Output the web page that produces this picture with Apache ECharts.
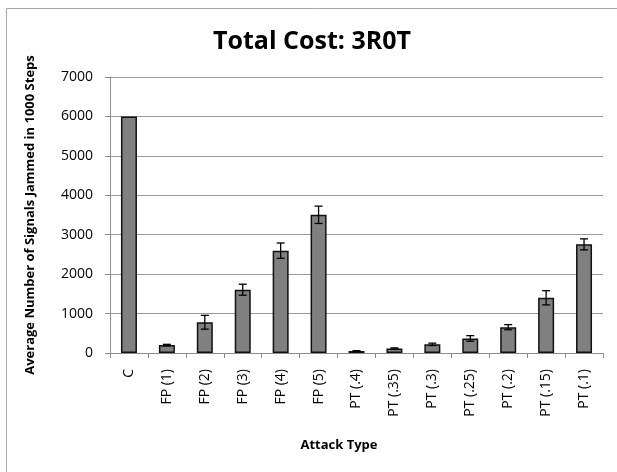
<!DOCTYPE html>
<html>
<head>
<meta charset="utf-8">
<script src="https://cdn.jsdelivr.net/npm/echarts@6/dist/echarts.min.js"></script>
<style>
  html, body { margin: 0; padding: 0; background: #fff; }
  #chart { width: 617px; height: 472px; }
</style>
</head>
<body>
<div id="chart"></div>
<script>
// Attack types along the x axis
const categories = ['C', 'FP (1)', 'FP (2)', 'FP (3)', 'FP (4)', 'FP (5)',
  'PT (.4)', 'PT (.35)', 'PT (.3)', 'PT (.25)', 'PT (.2)', 'PT (.15)', 'PT (.1)'];
// Mean signals jammed per 1000 steps
const means = [6000, 200, 780, 1605, 2595, 3505, 50, 115, 220, 370, 655, 1400, 2755];
// Half-width of each error bar (0 = no bar drawn)
const errors = [0, 20, 175, 140, 195, 220, 8, 15, 30, 70, 65, 180, 140];
// Y axis ticks
const yMin = 0, yMax = 7000, yStep = 1000;

const errorData = categories.map((c, i) => [i, means[i] - errors[i], means[i] + errors[i], errors[i]]);

const font = '"Open Sans", "Liberation Sans", sans-serif';
const chart = echarts.init(document.getElementById('chart'), null, { renderer: 'canvas' });

chart.setOption({
  animation: false,
  backgroundColor: '#fff',
  grid: { left: 110, right: 14, top: 77, bottom: 119 },
  graphic: [
    {
      type: 'rect', silent: true,
      shape: { x: 6.5, y: 8.5, width: 800, height: 800 },
      style: { fill: 'none', stroke: '#a6a6a6', lineWidth: 1 }
    },
    {
      type: 'text', x: 312, y: 42,
      style: { text: 'Total Cost: 3R0T', font: 'bold 25px ' + font, fill: '#000',
        textAlign: 'center', textVerticalAlign: 'middle' }
    },
    {
      type: 'text', x: 339, y: 445,
      style: { text: 'Attack Type', font: 'bold 13px ' + font, fill: '#000',
        textAlign: 'center', textVerticalAlign: 'middle' }
    }
  ],
  xAxis: {
    type: 'category',
    data: categories,
    axisLine: { lineStyle: { color: '#8c8c8c', width: 1 } },
    axisTick: { show: true, length: 5, alignWithLabel: false, lineStyle: { color: '#8c8c8c' } },
    axisLabel: { rotate: 90, margin: 16, fontSize: 14, fontFamily: font, color: '#000', interval: 0 }
  },
  yAxis: {
    type: 'value',
    min: yMin, max: yMax, interval: yStep,
    name: 'Average Number of Signals Jammed in 1000 Steps',
    nameLocation: 'middle',
    nameGap: 73,
    nameTextStyle: { fontSize: 13, fontWeight: 'bold', fontFamily: font, color: '#000' },
    axisLine: { show: true, lineStyle: { color: '#8c8c8c', width: 1 } },
    axisTick: { show: true, length: 5, lineStyle: { color: '#8c8c8c' } },
    axisLabel: { margin: 17, fontSize: 14, fontFamily: font, color: '#000',
      formatter: function (v) { return String(v); } },
    splitLine: { lineStyle: { color: '#9a9a9a', width: 1 } }
  },
  series: [
    {
      type: 'bar',
      data: means,
      barWidth: 16,
      itemStyle: { color: '#808080', borderColor: '#111', borderWidth: 1.5 }
    },
    {
      type: 'custom',
      data: errorData,
      z: 10,
      renderItem: function (params, api) {
        if (api.value(3) <= 0) return null;
        const x = api.value(0);
        const lo = api.coord([x, api.value(1)]);
        const hi = api.coord([x, api.value(2)]);
        const cap = 4;
        const style = { stroke: '#000', lineWidth: 1.3 };
        return {
          type: 'group',
          children: [
            { type: 'line', shape: { x1: lo[0], y1: hi[1], x2: lo[0], y2: lo[1] }, style: style },
            { type: 'line', shape: { x1: lo[0] - cap, y1: hi[1], x2: lo[0] + cap, y2: hi[1] }, style: style },
            { type: 'line', shape: { x1: lo[0] - cap, y1: lo[1], x2: lo[0] + cap, y2: lo[1] }, style: style }
          ]
        };
      }
    }
  ]
});
</script>
</body>
</html>
